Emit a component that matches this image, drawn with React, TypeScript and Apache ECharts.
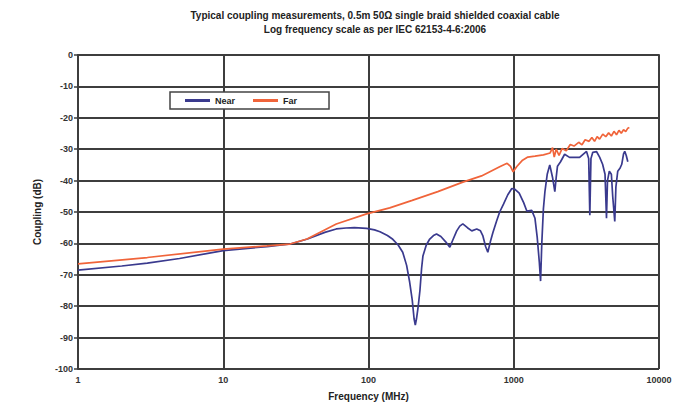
import React, { useEffect, useRef } from "react";
import * as echarts from "echarts";

const titleLines = [
  "Typical coupling measurements, 0.5m 50\u03A9 single braid shielded coaxial cable",
  "Log frequency scale as per IEC 62153-4-6:2006",
];
const xTickLabels = ["1", "10", "100", "1000", "10000"];

const nearFreq = [
  1, 2, 3, 5, 10, 20, 29, 38, 50, 60, 70, 80, 97, 110, 120, 135, 147, 160, 172, 183, 192, 200, 206, 210,
  214, 220, 226, 232, 237, 250, 264, 280, 294, 315, 340, 363, 380, 405, 425, 446, 480, 514, 556, 590,
  612, 640, 663, 690, 718, 760, 800, 850, 910, 970, 1020, 1090, 1170, 1230, 1330, 1400, 1450, 1500,
  1530, 1560, 1600, 1640, 1700, 1770, 1850, 1918, 1960, 2000, 2100, 2240, 2420, 2840, 3170, 3280,
  3340, 3400, 3500, 3720, 3900, 4090, 4250, 4350, 4420, 4550, 4700, 4800, 4960, 5050, 5200, 5400,
  5540, 5700, 5810, 5950, 6100,
];
const nearDb = [
  -68.5, -67.2, -66.3, -64.8, -62.3, -61, -60.2, -58.6, -56.5, -55.4, -55.1, -55, -55.2, -55.7, -56.3,
  -57.5, -58.7, -60.5, -62.8, -67, -72.3, -78, -84, -86, -84, -80, -75, -68, -64, -60.5, -58.6, -57.5,
  -57, -57.8, -59.5, -61.2, -59, -56, -54.5, -53.8, -55, -56, -55.4, -56, -57.5, -61, -62.8, -59.5,
  -56.6, -53, -50, -47.5, -44.5, -42.5, -42.8, -44, -47, -49.7, -49.5, -52, -58, -66, -72, -60, -49,
  -43.4, -38, -35, -39, -43.5, -39, -35.4, -34, -31.6, -32.6, -32.6, -30.7, -33, -51, -33, -31, -30.8,
  -32.5, -34.8, -38, -52, -40, -37, -38, -45, -53, -42, -37, -36, -34.8, -31.5, -30.7, -32, -34,
];

const farFreq = [
  1, 3, 10, 20, 28.8, 37.7, 60, 97, 140, 200, 300, 446, 600, 800, 900, 950, 990, 1050, 1150, 1250, 1400,
  1600, 1780, 1850, 1900, 1960, 2050, 2150, 2300, 2450, 2600, 2800, 2950, 3100, 3300, 3450, 3600, 3750,
  3900, 4100, 4300, 4500, 4700, 4900, 5100, 5300, 5500, 5700, 5900, 6100, 6250,
];
const farDb = [
  -66.5, -64.5, -61.8, -60.8, -60.2, -58.6, -53.8, -50.6, -48.7, -46.3, -43.5, -40.5, -38.5, -35.6,
  -34.5, -35.5, -37.2, -35.5, -33.5, -32.5, -32.2, -31.8, -31.2, -29.5, -32.5, -30, -32, -29.8, -30.5,
  -28.5, -29, -27.8, -28.6, -27, -27.5, -26.3, -27.5, -26, -26.8, -25.2, -26, -24.8, -25.8, -24.3,
  -25.4, -24, -24.9, -23.8, -24.4, -23.3, -23.1,
];

const FONT = "'Liberation Sans', Arial, sans-serif";
const GRID_COLOR = "#3d3d3d";

export default function App() {
  const ref = useRef<HTMLDivElement>(null);
  useEffect(() => {
    if (!ref.current) return;
    const chart = echarts.init(ref.current, undefined, { renderer: "svg" });
    const near = nearFreq.map((f, i) => [f, nearDb[i]]);
    const far = farFreq.map((f, i) => [f, farDb[i]]);
    chart.setOption({
      animation: false,
      backgroundColor: "#ffffff",
      title: {
        text: titleLines.join("\n"),
        left: 370,
        top: 3,
        textAlign: "center",
        textStyle: {
          fontFamily: FONT,
          fontSize: 10,
          fontWeight: "bold",
          color: "#222",
          lineHeight: 14,
        },
      },
      legend: {
        left: 170,
        top: 92,
        padding: [4, 32, 4, 15],
        itemGap: 18,
        itemWidth: 25,
        itemHeight: 3,
        icon: "rect",
        backgroundColor: "#ffffff",
        borderColor: "#444",
        borderWidth: 1.5,
        textStyle: { fontFamily: FONT, fontSize: 9, fontWeight: "bold", color: "#222" },
        data: ["Near", "Far"],
      },
      grid: { left: 78, right: 37, top: 55, bottom: 41 },
      xAxis: {
        type: "log",
        logBase: 10,
        min: 1,
        max: 10000,
        name: "Frequency (MHz)",
        nameLocation: "middle",
        nameGap: 22,
        nameTextStyle: { fontFamily: FONT, fontSize: 10, fontWeight: "bold", color: "#222" },
        axisLine: { show: true, lineStyle: { color: GRID_COLOR, width: 2 } },
        axisTick: { show: true, length: 3, lineStyle: { color: GRID_COLOR, width: 1.5 } },
        splitLine: { show: true, lineStyle: { color: GRID_COLOR, width: 2 } },
        minorTick: { show: false },
        axisLabel: {
          fontFamily: FONT,
          fontSize: 9,
          fontWeight: "bold",
          color: "#333",
          margin: 6,
          formatter: (v: number) => {
            const idx = Math.round(Math.log10(v));
            return xTickLabels[idx] ?? String(v);
          },
        },
      },
      yAxis: {
        type: "value",
        min: -100,
        max: 0,
        interval: 10,
        name: "Coupling (dB)",
        nameLocation: "middle",
        nameGap: 36,
        nameRotate: 90,
        nameTextStyle: { fontFamily: FONT, fontSize: 10, fontWeight: "bold", color: "#222" },
        axisLine: { show: true, lineStyle: { color: GRID_COLOR, width: 2 } },
        axisTick: { show: true, length: 4, lineStyle: { color: GRID_COLOR, width: 1.5 } },
        splitLine: { show: true, lineStyle: { color: GRID_COLOR, width: 2 } },
        axisLabel: {
          fontFamily: FONT,
          fontSize: 9,
          fontWeight: "bold",
          color: "#333",
          margin: 5,
        },
      },
      graphic: [
        {
          type: "line",
          shape: { x1: 659, y1: 55, x2: 659, y2: 369 },
          style: { stroke: GRID_COLOR, lineWidth: 2 },
          z: 1,
        },
      ],
      series: [
        {
          name: "Near",
          type: "line",
          data: near,
          symbol: "none",
          showSymbol: false,
          lineStyle: { color: "#3a3a8e", width: 1.7 },
          itemStyle: { color: "#3a3a8e" },
          z: 3,
        },
        {
          name: "Far",
          type: "line",
          data: far,
          symbol: "none",
          showSymbol: false,
          lineStyle: { color: "#f0643a", width: 1.7 },
          itemStyle: { color: "#f0643a" },
          z: 4,
        },
      ],
    });
    return () => chart.dispose();
  }, []);
  return <div ref={ref} style={{ width: 696, height: 410, position: "absolute", left: 0, top: 0 }} />;
}
